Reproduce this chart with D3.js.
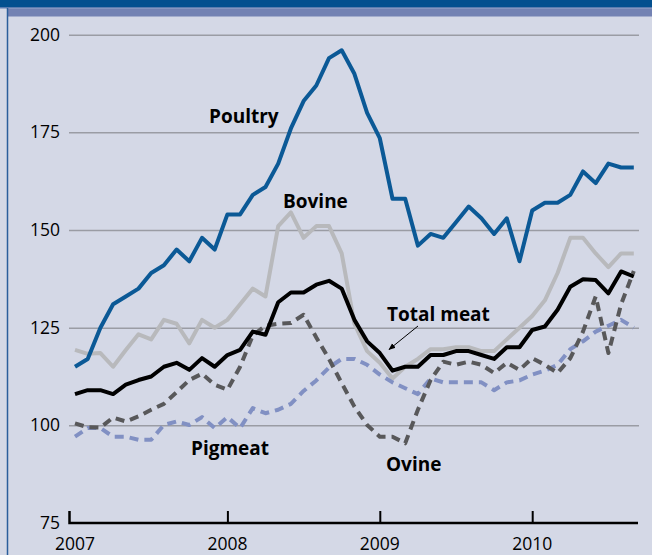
<!DOCTYPE html>
<html><head><meta charset="utf-8">
<script src="https://cdn.jsdelivr.net/npm/d3@7"></script>
<style>
html,body{margin:0;padding:0;background:#d4d8e6;}
svg{display:block;font-family:"Open Sans",sans-serif;}
</style>
</head><body>
<svg id="chart" width="652" height="555"></svg>
<script>
// ---- data (monthly index, Jan 2007 = 100 scale) ----
const months = d3.range(45).map(i => (2007 + Math.floor(i / 12)) + "-" + String(i % 12 + 1).padStart(2, "0"));
const poultry = [115,117,125,131,133,135,139,141,145,142,148,145,154,154,159,161,167,176,183,187,194,196,190,180,173.5,158,158,146,149,148,152,156,153,149,153,142,155,157,157,159,165,162,167,166,166];
const bovine  = [119.3,118.3,118.5,115,119.3,123.3,122,127,126,121,127,125,127,131,135,133,151,154.5,148,151,151,144,126,119,116,112,115,117,119.5,119.5,120,120,119,119,122,125,128,132,139,148,148,144,140.5,144,144];
const totalMeat = [108,109,109,108,110.4,111.6,112.5,115,116,114.2,117.2,115,118,119.3,124,123.2,131.5,134,134,136,137,135,127,121.5,118.5,114,115,115,118,118,119,119,118,117,120,120,124.4,125.3,129.6,135.5,137.4,137.2,133.8,139.4,138.1];
const ovine   = [100.5,99.5,99.4,102,101,102.3,104,105.5,108.5,111.6,113.2,110.4,109.1,115,123,125.5,126,126.2,128.3,122.5,117,110.8,104.8,100.1,97.1,97.1,95.4,104,111.6,116.3,115.5,116.3,115.5,113.4,116,114.2,117.2,115.5,113.4,117.2,124,133,118.5,131,139.5];
const pigmeat = [97.1,99.3,99.3,97.1,97.1,96.3,96.3,100.1,101,100.1,102.1,99.3,102.1,99.3,104.4,103.1,104,105.5,108.8,111.5,114.8,117,117,115.5,113,111,109.5,108,112,111,111,111,111,109,111,111.5,113,114,115.5,119.5,121.5,124,125.5,127,125];
const yTicks = [75,100,125,150,175,200];
const yearTicks = ["2007-01","2008-01","2009-01","2010-01"];
const yearLabels = ["2007","2008","2009","2010"];

const svg = d3.select("#chart");

// ---- frame decoration ----
svg.append("rect").attr("x",0).attr("y",0).attr("width",652).attr("height",555).attr("fill","#d4d8e6");
svg.append("rect").attr("x",0).attr("y",0).attr("width",652).attr("height",7).attr("fill","#03508f");
svg.append("rect").attr("x",0).attr("y",7).attr("width",652).attr("height",1.5).attr("fill","#5a7cb0");
svg.append("rect").attr("x",8).attr("y",8.5).attr("width",644).attr("height",8).attr("fill","#7382b3");
svg.append("line").attr("x1",7.5).attr("x2",7.5).attr("y1",8).attr("y2",555).attr("stroke","#2b5e9c").attr("stroke-width",1.5);

// ---- scales ----
const x = d3.scalePoint().domain(months).range([75, 633.8]);
const y = d3.scaleLinear().domain([75, 200]).range([523, 34.7]);

// ---- y axis with gridlines ----
const yAxis = d3.axisLeft(y).tickValues(yTicks).tickSize(570).tickPadding(9).tickFormat(d3.format("d"));
const gy = svg.append("g").attr("transform","translate(639,0)").call(yAxis);
gy.select(".domain").remove();
gy.selectAll(".tick line").attr("stroke","#9a9ca4").attr("stroke-width",1.5)
  .attr("display", d => d === 75 ? "none" : null);
gy.selectAll(".tick text").attr("fill","#000").style("font-size","17.5px").style("font-family","'Open Sans',sans-serif");

// ---- x axis ----
const x0 = x(months[0]) - 5.5;
svg.append("path").attr("d", `M${x0},511V523H638`).attr("fill","none").attr("stroke","#000").attr("stroke-width",2.5);
const xAxis = d3.axisBottom(x).tickValues(yearTicks.slice(1)).tickSize(-12).tickFormat("");
const gx = svg.append("g").attr("transform","translate(0,523)").call(xAxis);
gx.select(".domain").remove();
gx.selectAll(".tick line").attr("stroke","#000").attr("stroke-width",2);
svg.selectAll("text.year").data(yearTicks).join("text").attr("class","year")
  .attr("x", d => x(d)).attr("y", 550).attr("text-anchor","middle")
  .style("font-size","17.5px").text((d,i) => yearLabels[i]);

// ---- lines ----
const line = d3.line().x((d,i) => x(months[i])).y(d => y(d)).curve(d3.curveLinear);
const series = [
  {data: bovine, color: "#b8b9bc", dash: null},
  {data: pigmeat, color: "#8190c3", dash: "9,6"},
  {data: ovine, color: "#58585a", dash: "9,6"},
  {data: totalMeat, color: "#000000", dash: null},
  {data: poultry, color: "#0b5996", dash: null}
];
series.forEach(s => {
  svg.append("path").datum(s.data).attr("d", line)
    .attr("fill","none").attr("stroke", s.color).attr("stroke-width", 4)
    .attr("stroke-linejoin","round")
    .attr("stroke-dasharray", s.dash);
});

// ---- labels ----
const labels = [
  {t:"Poultry", x:209, y:123},
  {t:"Bovine", x:283, y:208},
  {t:"Total meat", x:387, y:320.5},
  {t:"Pigmeat", x:191, y:455},
  {t:"Ovine", x:386, y:470.5}
];
svg.selectAll("text.lab").data(labels).join("text").attr("class","lab")
  .attr("x", d => d.x).attr("y", d => d.y)
  .style("font-size","19px").style("font-weight","bold").text(d => d.t);

// arrow
svg.append("defs").append("marker").attr("id","ah").attr("viewBox","0 0 10 10").attr("refX",9).attr("refY",5)
  .attr("markerWidth",7).attr("markerHeight",7).attr("orient","auto")
  .append("path").attr("d","M0,1L10,5L0,9z").attr("fill","#000");
svg.append("line").attr("x1",418).attr("y1",326).attr("x2",389).attr("y2",349.5)
  .attr("stroke","#000").attr("stroke-width",1).attr("marker-end","url(#ah)");
</script>
</body></html>
